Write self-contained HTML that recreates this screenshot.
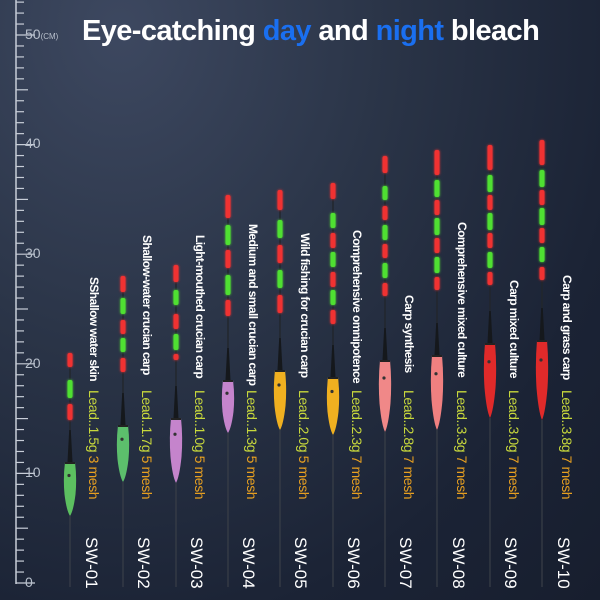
<!DOCTYPE html>
<html><head><meta charset="utf-8"><style>
body{margin:0;width:600px;height:600px;overflow:hidden;background:radial-gradient(ellipse at 20% 5%,#3d4860 0%,#2a3447 40%,#1b2335 75%,#171e2e 100%);font-family:"Liberation Sans",sans-serif;position:relative}
svg{position:absolute;left:0;top:0}
.t{position:absolute;left:82px;top:15px;font-size:29px;font-weight:bold;color:#fff;letter-spacing:-0.6px;white-space:nowrap}
.t span{color:#1a6ff0}
.v{position:absolute;writing-mode:vertical-rl;white-space:nowrap;font-family:"Liberation Sans Narrow","Liberation Sans",sans-serif}
.n{color:#fff;font-weight:bold;font-size:12px;letter-spacing:-0.6px}
.l{color:#c8d83c;font-size:14px;letter-spacing:-0.4px}
.l b{color:#e8a020;font-weight:normal}
.s{color:#fff;font-size:17px;font-family:"Liberation Sans",sans-serif}
.r{position:absolute;color:#b8c0cc;font-size:14px}
</style></head><body>
<svg id="g" width="600" height="600"></svg>
<div class="t">Eye-catching <span>day</span> and <span>night</span> bleach</div>
<div class="r" style="left:25px;top:26px">50<span style="font-size:8px">(CM)</span></div>
<div class="r" style="left:25px;top:135px">40</div>
<div class="r" style="left:25px;top:245px">30</div>
<div class="r" style="left:25px;top:355px">20</div>
<div class="r" style="left:25px;top:464px">10</div>
<div class="r" style="left:25px;top:574px">0</div>

<div class="v n" style="left:87px;top:277px">SShallow water skin</div>
<div class="v n" style="left:140px;top:235px">Shallow-water crucian carp</div>
<div class="v n" style="left:193px;top:235px">Light-mouthed crucian carp</div>
<div class="v n" style="left:246px;top:224px">Medium and small crucian carp</div>
<div class="v n" style="left:298px;top:233px">Wild fishing for crucian carp</div>
<div class="v n" style="left:350px;top:230px">Comprehensive omnipotence</div>
<div class="v n" style="left:402px;top:295px">Carp synthesis</div>
<div class="v n" style="left:455px;top:222px">Comprehensive mixed culture</div>
<div class="v n" style="left:507px;top:280px">Carp mixed culture</div>
<div class="v n" style="left:560px;top:275px">Carp and grass carp</div>

<div class="v l" style="left:86px;top:390px">Lead..1.5g <b>3 mesh</b></div>
<div class="v l" style="left:139px;top:390px">Lead..1.7g <b>5 mesh</b></div>
<div class="v l" style="left:192px;top:390px">Lead..1.0g <b>5 mesh</b></div>
<div class="v l" style="left:244px;top:390px">Lead..1.3g <b>5 mesh</b></div>
<div class="v l" style="left:296px;top:390px">Lead..2.0g <b>5 mesh</b></div>
<div class="v l" style="left:349px;top:390px">Lead..2.3g <b>7 mesh</b></div>
<div class="v l" style="left:401px;top:390px">Lead..2.8g <b>7 mesh</b></div>
<div class="v l" style="left:454px;top:390px">Lead..3.3g <b>7 mesh</b></div>
<div class="v l" style="left:506px;top:390px">Lead..3.0g <b>7 mesh</b></div>
<div class="v l" style="left:559px;top:390px">Lead..3.8g <b>7 mesh</b></div>

<div class="v s" style="left:81px;top:537px">SW-01</div>
<div class="v s" style="left:133px;top:537px">SW-02</div>
<div class="v s" style="left:186px;top:537px">SW-03</div>
<div class="v s" style="left:238px;top:537px">SW-04</div>
<div class="v s" style="left:290px;top:537px">SW-05</div>
<div class="v s" style="left:343px;top:537px">SW-06</div>
<div class="v s" style="left:395px;top:537px">SW-07</div>
<div class="v s" style="left:448px;top:537px">SW-08</div>
<div class="v s" style="left:500px;top:537px">SW-09</div>
<div class="v s" style="left:553px;top:537px">SW-10</div>
<script>
var s='<defs><filter id="gl" x="-2" y="-1" width="5" height="3"><feGaussianBlur stdDeviation="1.2" result="b"/><feMerge><feMergeNode in="b"/><feMergeNode in="SourceGraphic"/></feMerge></filter></defs>';
s+='<line x1="16" y1="0" x2="16" y2="584" stroke="#c8ced8" stroke-width="1.5"/>';
for(var i=0;i<=53;i++){var y=583-i*10.96;if(y<0)break;var L=i%10==0?35:(i%5==0?28:24);s+='<line x1="16" y1="'+y+'" x2="'+L+'" y2="'+y+'" stroke="#c8ced8" stroke-width="1.2"/>';}
var F=[
[70,[[353,367,'r'],[380,398,'g'],[404,420,'r']],462,516,'#5cc060'],
[123,[[276,292,'r'],[298,314,'g'],[320,334,'r'],[338,352,'g'],[358,372,'r']],425,482,'#5cbf6c'],
[176,[[265,282,'r'],[290,305,'g'],[314,329,'r'],[334,350,'g'],[354,360,'r']],418,483,'#c584cc'],
[228,[[195,218,'r'],[225,245,'g'],[250,268,'r'],[275,295,'g'],[300,316,'r']],380,433,'#c584cc'],
[280,[[190,210,'r'],[220,238,'g'],[245,263,'r'],[270,288,'g'],[295,313,'r']],370,430,'#f0b020'],
[333,[[183,199,'r'],[213,228,'g'],[233,248,'r'],[252,267,'g'],[272,287,'r'],[290,305,'g'],[310,324,'r']],377,435,'#f0b020'],
[385,[[156,173,'r'],[186,200,'g'],[206,220,'r'],[225,240,'g'],[244,258,'r'],[263,278,'g'],[283,296,'r']],360,432,'#f08888'],
[437,[[150,175,'r'],[180,197,'g'],[200,215,'r'],[218,235,'g'],[238,253,'r'],[257,273,'g'],[277,290,'r']],355,430,'#f08080'],
[490,[[145,170,'r'],[175,192,'g'],[195,210,'r'],[213,230,'g'],[233,248,'r'],[252,268,'g'],[272,285,'r']],343,418,'#e02a2a'],
[542,[[140,165,'r'],[170,187,'g'],[190,205,'r'],[208,225,'g'],[228,243,'r'],[247,262,'g'],[267,280,'r']],340,420,'#e02a2a']];
F.forEach(function(f){var x=f[0],seg=f[1],yt=f[2],yb=f[3],c=f[4],h=yb-yt;
s+='<line x1="'+x+'" y1="'+yb+'" x2="'+x+'" y2="587" stroke="#3a3f48" stroke-width="1.2"/>';
s+='<line x1="'+x+'" y1="'+seg[0][0]+'" x2="'+x+'" y2="'+yt+'" stroke="#22262c" stroke-width="1.4"/>';
s+='<path d="M'+(x-0.8)+','+(yt-32)+' L'+(x+0.8)+','+(yt-32)+' L'+(x+2.5)+','+yt+' L'+(x-2.5)+','+yt+'Z" fill="#15181c"/>';
s+='<path d="M'+(x-5)+','+yt+' L'+(x+5)+','+yt+' Q'+(x+7)+','+(yt+h*0.3)+' '+(x+5.5)+','+(yt+h*0.6)+' Q'+(x+3.5)+','+(yt+h*0.9)+' '+x+','+yb+' Q'+(x-3.5)+','+(yt+h*0.9)+' '+(x-5.5)+','+(yt+h*0.6)+' Q'+(x-7)+','+(yt+h*0.3)+' '+(x-5)+','+yt+'Z" fill="'+c+'"/>';
s+='<rect x="'+(x-5)+'" y="'+yt+'" width="10" height="2" fill="#222"/>';
s+='<circle cx="'+(x-1)+'" cy="'+(yt+h*0.25)+'" r="1.6" fill="#333"/>';
seg.forEach(function(q){var col=q[2]=='r'?'#f03030':'#50e030';s+='<rect filter="url(#gl)" x="'+(x-2.5)+'" y="'+q[0]+'" width="5" height="'+(q[1]-q[0])+'" rx="2" fill="'+col+'"/>';});
});
document.getElementById('g').innerHTML=s;
</script>
</body></html>
